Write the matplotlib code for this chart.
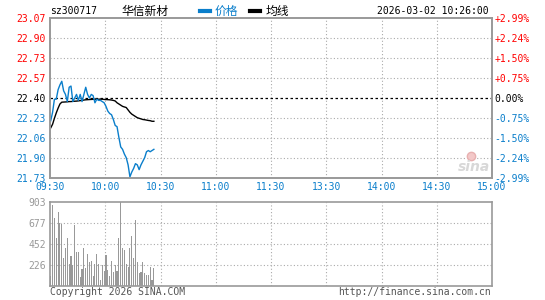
import numpy as np
import matplotlib.pyplot as plt
from matplotlib.lines import Line2D

# 分时数据 (09:30 - 10:26, one point per minute)
prev_close = 22.40
price = [22.21, 22.28, 22.39, 22.39, 22.47, 22.51, 22.54, 22.46, 22.43, 22.37,
         22.49, 22.50, 22.37, 22.40, 22.43, 22.38, 22.43, 22.37, 22.43, 22.49,
         22.43, 22.40, 22.43, 22.42, 22.36, 22.39, 22.38, 22.38, 22.37, 22.36,
         22.33, 22.29, 22.27, 22.26, 22.22, 22.17, 22.16, 22.07, 21.99, 21.97,
         21.93, 21.90, 21.84, 21.74, 21.78, 21.81, 21.85, 21.84, 21.80, 21.84,
         21.87, 21.90, 21.95, 21.96, 21.95, 21.96, 21.97]
avg = [22.15, 22.18, 22.23, 22.275, 22.315, 22.35, 22.365, 22.366, 22.367, 22.368,
       22.37, 22.37, 22.372, 22.373, 22.374, 22.376, 22.378, 22.38, 22.383, 22.385,
       22.386, 22.387, 22.388, 22.389, 22.39, 22.39, 22.39, 22.39, 22.39, 22.388,
       22.387, 22.386, 22.385, 22.383, 22.38, 22.375, 22.36, 22.35, 22.34, 22.33,
       22.325, 22.32, 22.30, 22.28, 22.265, 22.255, 22.245, 22.235, 22.23, 22.225,
       22.22, 22.218, 22.215, 22.212, 22.21, 22.205, 22.205]
volume = [111, 874, 735, 512, 799, 677, 666, 305, 412, 512,
          240, 326, 229, 659, 369, 369, 100, 179, 412, 190,
          344, 262, 272, 111, 240, 344, 240, 68, 226, 165,
          333, 176, 111, 272, 150, 226, 160, 512, 903, 404,
          391, 240, 208, 412, 541, 297, 713, 254, 140, 147,
          262, 136, 122, 122, 208, 68, 190]

time_labels = ['09:30', '10:00', '10:30', '11:00', '11:30', '13:30', '14:00', '14:30', '15:00']
price_labels = ['23.07', '22.90', '22.73', '22.57', '22.40', '22.23', '22.06', '21.90', '21.73']
pct_labels = ['+2.99%', '+2.24%', '+1.50%', '+0.75%', '0.00%', '-0.75%', '-1.50%', '-2.24%', '-2.99%']
vol_ticks = [226, 452, 677, 903]

RED = '#ff0000'
BLUE = '#0a7ecb'
FRAME = '#999999'
GRID = '#aaaaaa'
MONO = 'DejaVu Sans Mono'
CJK = ['Noto Sans CJK SC', 'DejaVu Sans']

W, H = 545, 300
fig = plt.figure(figsize=(W / 100, H / 100), dpi=100)


def box(l, t, r, b):
    return [l / W, 1 - b / H, (r - l) / W, (b - t) / H]


def px(x, y):
    return x / W, 1 - y / H


minutes = np.arange(len(price)) + 0.4
xt = np.arange(0, 241, 30)

# ---- price panel ----
ax = fig.add_axes(box(50, 18, 492, 178))
ylo, yhi = float(price_labels[-1]), float(price_labels[0])
yt = np.linspace(yhi, ylo, 9)
ax.set_xlim(0, 240)
ax.set_ylim(ylo, yhi)
for v in xt[1:-1]:
    ax.axvline(v, color=GRID, lw=0.8, ls=(0, (1, 2)), zorder=0)
for v in yt[1:-1]:
    if abs(v - prev_close) > 1e-6:
        ax.axhline(v, color=GRID, lw=0.8, ls=(0, (1, 2)), zorder=0)
ax.axhline(prev_close, color='black', lw=0.9, ls=(0, (2, 2)), zorder=1)
ax.plot(minutes, price, color=BLUE, lw=1.0, zorder=3)
ax.plot(minutes, avg, color='black', lw=1.0, zorder=2)

ax.set_xticks(xt, time_labels)
ax.set_yticks(yt, price_labels)
ax.tick_params(length=0, labelsize=7, pad=3)
for lab in ax.get_xticklabels():
    lab.set_color(BLUE)
    lab.set_family(MONO)
cols = [RED] * 4 + ['black'] + [BLUE] * 4
for lab, c in zip(ax.get_yticklabels(), cols):
    lab.set_color(c)
    lab.set_family(MONO)

ax2 = ax.twinx()
ax2.set_ylim(ylo, yhi)
ax2.set_yticks(yt, pct_labels)
ax2.tick_params(length=0, labelsize=7, pad=2)
for lab, c in zip(ax2.get_yticklabels(), cols):
    lab.set_color(c)
    lab.set_family(MONO)

for a in (ax, ax2):
    for s in a.spines.values():
        s.set_color(FRAME)
        s.set_linewidth(1.2)

# ---- volume panel ----
axv = fig.add_axes(box(50, 202, 492, 286))
axv.set_xlim(0, 240)
axv.set_ylim(0, vol_ticks[-1])
for v in xt[1:-1]:
    axv.axvline(v, color=GRID, lw=0.8, ls=(0, (1, 2)), zorder=0)
for v in vol_ticks[:-1]:
    axv.axhline(v, color=GRID, lw=0.8, ls=(0, (1, 2)), zorder=0)
axv.bar(minutes, volume, width=0.6, color='#999999', zorder=2)
axv.set_xticks([])
axv.set_yticks(vol_ticks, [str(v) for v in vol_ticks])
axv.tick_params(length=0, labelsize=7, pad=3, labelcolor='#999999')
for lab in axv.get_yticklabels():
    lab.set_family(MONO)
for s in axv.spines.values():
    s.set_color(FRAME)
    s.set_linewidth(1.2)

# ---- header / footer ----
fig.text(*px(50, 11), 'sz300717', family=MONO, size=7, va='center')
fig.text(*px(121, 11), '华信新材', family=CJK, size=8.5, va='center')
fig.add_artist(Line2D([200 / W, 210 / W], [1 - 11 / H] * 2, color=BLUE, lw=3))
fig.text(*px(215, 11), '价格', family=CJK, size=8.5, va='center', color=BLUE)
fig.add_artist(Line2D([250 / W, 260 / W], [1 - 11 / H] * 2, color='black', lw=3))
fig.text(*px(266, 11), '均线', family=CJK, size=8.5, va='center')
fig.text(*px(489, 11), '2026-03-02 10:26:00', family=MONO, size=7, va='center', ha='right')

fig.text(*px(50, 292), 'Copyright 2026 SINA.COM', family=MONO, size=7,
         va='center', color='#555555')
fig.text(*px(491, 292), 'http://finance.sina.com.cn', family=MONO, size=7,
         va='center', ha='right', color='#555555')

# sina watermark
fig.text(*px(474, 167), 'sina', size=10, style='italic', weight='bold',
         color='#d8d8d8', ha='center', va='center')
fig.add_artist(Line2D([471 / W], [1 - 156 / H], marker='o', markersize=6,
                      markerfacecolor='#f3c8c8', markeredgecolor='#e8b0b0', lw=0))

fig.savefig('out.png', dpi=100)
